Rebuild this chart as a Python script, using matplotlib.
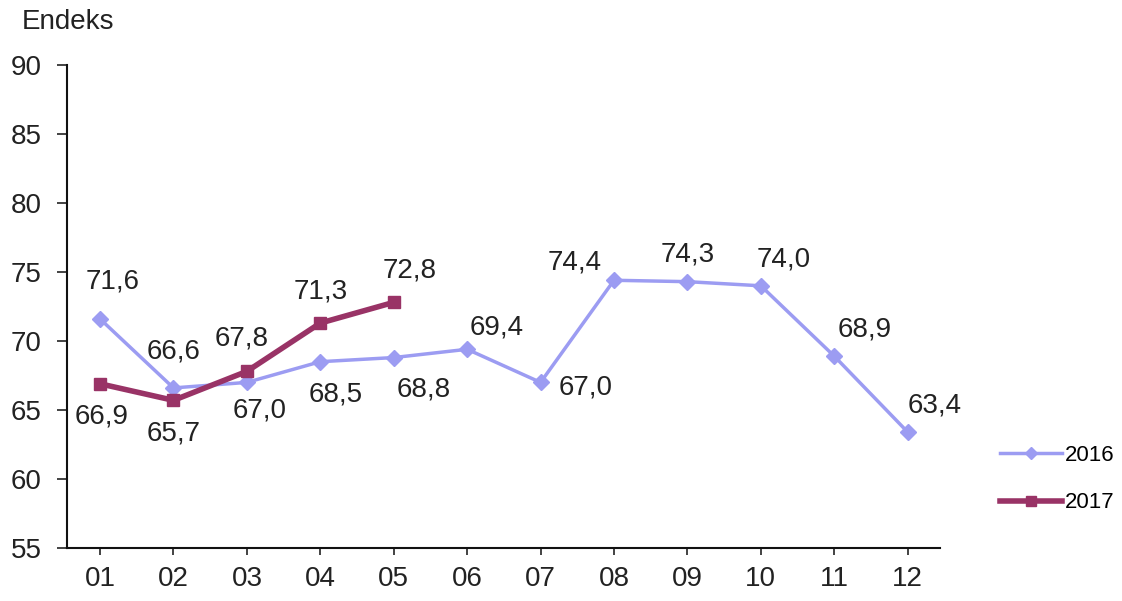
import numpy as np
import matplotlib.pyplot as plt

plt.rcParams['font.family'] = ['Liberation Sans', 'DejaVu Sans']

# Data
months = ["01", "02", "03", "04", "05", "06", "07", "08", "09", "10", "11", "12"]
vals_2016 = [71.6, 66.6, 67.0, 68.5, 68.8, 69.4, 67.0, 74.4, 74.3, 74.0, 68.9, 63.4]
vals_2017 = [66.9, 65.7, 67.8, 71.3, 72.8]
yticks = [55, 60, 65, 70, 75, 80, 85, 90]

# label offsets in pixels (dx, dy)
off_2016 = [(13, 37), (0, 36), (13, -28), (15, -33), (30, -32), (30, 22),
            (45, -5), (-39, 18), (0, 27), (23, 26), (30, 27), (27, 27)]
off_2017 = [(2, -33), (0, -33), (-5, 33), (0, 32), (16, 32)]

c16 = "#9c9cf2"
c17 = "#993366"

fig = plt.figure(figsize=(11.22, 6.01), dpi=100)
ax = fig.add_axes([67/1122, 1 - 548/601, (940 - 67)/1122, (548 - 65)/601])

x16 = np.arange(1, len(vals_2016) + 1)
x17 = np.arange(1, len(vals_2017) + 1)
ax.plot(x16, vals_2016, color=c16, lw=2.5, marker="D", ms=8, label="2016")
ax.plot(x17, vals_2017, color=c17, lw=4, marker="s", ms=9, label="2017")

def fmt(v):
    return f"{v:.1f}".replace(".", ",")

for x, v, o in zip(x16, vals_2016, off_2016):
    ax.annotate(fmt(v), (x, v), xytext=o, textcoords="offset pixels",
                ha="center", va="center", fontsize=20, color="#222222")
for x, v, o in zip(x17, vals_2017, off_2017):
    ax.annotate(fmt(v), (x, v), xytext=o, textcoords="offset pixels",
                ha="center", va="center", fontsize=20, color="#222222")

ax.set_xlim(0.55, 12.44)
ax.set_ylim(55, 90)
ax.set_yticks(yticks)
ax.set_xticks(x16)
ax.set_xticklabels(months)
ax.tick_params(axis="both", labelsize=20, colors="#222222", direction="out")
ax.tick_params(axis="y", length=7, width=1.2, pad=11)
ax.tick_params(axis="x", length=5, width=1.2, pad=8)
for s in ["top", "right"]:
    ax.spines[s].set_visible(False)
for s in ["left", "bottom"]:
    ax.spines[s].set_linewidth(1.5)
    ax.spines[s].set_color("#111111")

fig.text(22/1122, 1 - 22/601, "Endeks", fontsize=20, va="center", ha="left", color="#222222")

ax.legend(loc="center left", bbox_to_anchor=(980/1122, 1 - 479/601),
          bbox_transform=fig.transFigure, frameon=False, fontsize=16,
          handlelength=2.8, handletextpad=0.1, labelspacing=1.2, markerscale=0.8)

fig.savefig("out.png", dpi=100, facecolor="white")
